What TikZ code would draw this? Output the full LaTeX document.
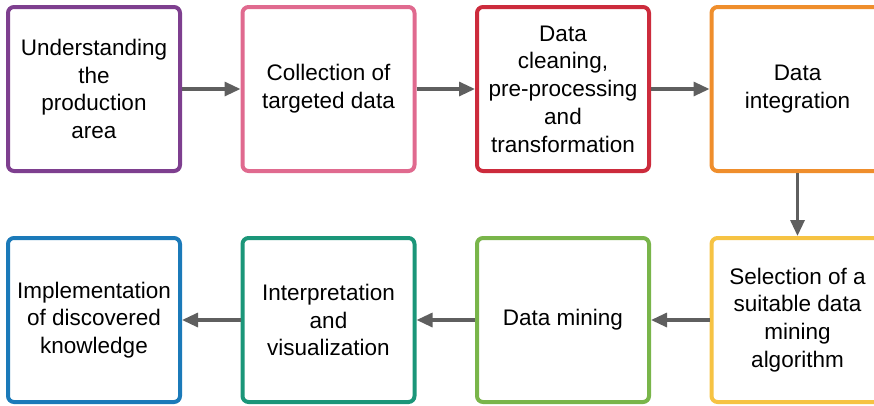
\documentclass[tikz,border=0pt]{standalone}
\usepackage{fontspec}
\setmainfont{Liberation Sans}
\usetikzlibrary{arrows.meta}
\definecolor{cPurple}{HTML}{7E3F8F}
\definecolor{cPink}{HTML}{E06A8F}
\definecolor{cRed}{HTML}{CC2B3C}
\definecolor{cOrange}{HTML}{EF8E2C}
\definecolor{cYellow}{HTML}{F6C343}
\definecolor{cGreen}{HTML}{79B54A}
\definecolor{cTeal}{HTML}{1B9679}
\definecolor{cBlue}{HTML}{1B7AB9}
\definecolor{cArrow}{HTML}{5F5F5F}
\tikzset{
  stepbox/.style={draw, line width=4pt, rounded corners=6pt, fill=white,
    minimum width=172pt, minimum height=164pt, align=center,
    font=\fontsize{22.5pt}{27.7pt}\selectfont, inner sep=2pt},
  flow/.style={draw=cArrow, line width=3.2pt, -{Triangle[length=16pt,width=14pt]}}
}
\begin{document}
\begin{tikzpicture}[x=1pt,y=-1pt]
\useasboundingbox (0,0) rectangle (874,405);
\node[stepbox, draw=cPurple] (a) at (94,89) {Understanding\\the\\production\\area};
\node[stepbox, draw=cPink] (b) at (328.5,89) {Collection of\\targeted data};
\node[stepbox, draw=cRed] (c) at (563,89) {Data\\cleaning,\\pre-processing\\and\\transformation};
\node[stepbox, draw=cOrange] (d) at (797.5,89) {Data\\integration};
\node[stepbox, draw=cYellow] (e) at (797.5,320) {Selection of a\\suitable data\\mining\\algorithm};
\node[stepbox, draw=cGreen] (f) at (563,320) {Data mining};
\node[stepbox, draw=cTeal] (g) at (328.5,320) {Interpretation\\and\\visualization};
\node[stepbox, draw=cBlue] (h) at (94,320) {Implementation\\of discovered\\knowledge};
\draw[flow] (a) -- (b);
\draw[flow] (b) -- (c);
\draw[flow] (c) -- (d);
\draw[flow] (d) -- (e);
\draw[flow] (e) -- (f);
\draw[flow] (f) -- (g);
\draw[flow] (g) -- (h);
\end{tikzpicture}
\end{document}
